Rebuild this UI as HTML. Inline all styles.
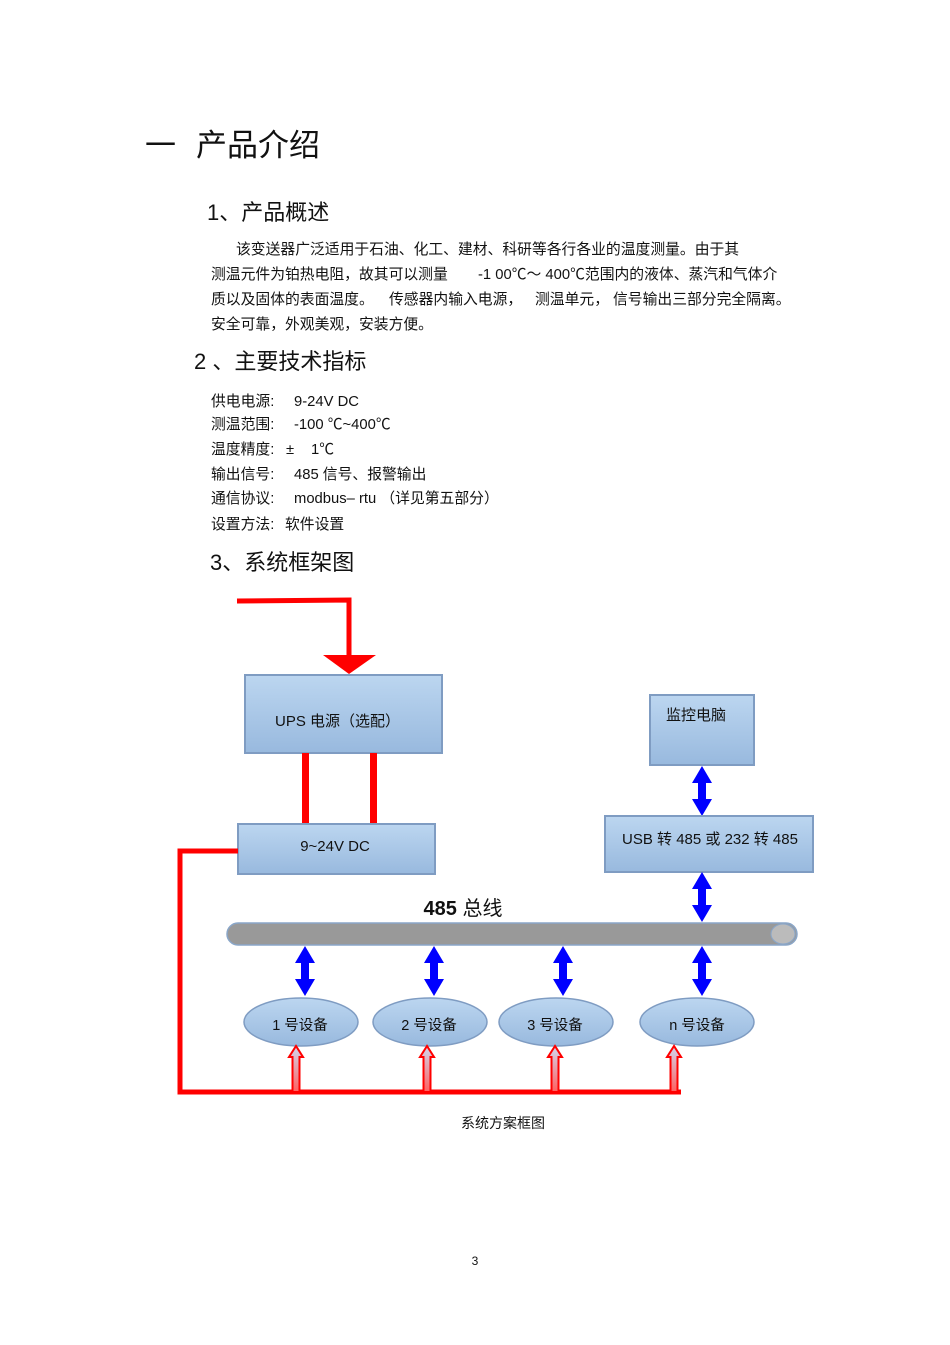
<!DOCTYPE html>
<html><head><meta charset="utf-8"><style>
html,body{margin:0;padding:0;background:#fff;}
svg{display:block;}
text{font-family:"Liberation Sans","Noto Sans CJK SC",sans-serif;fill:#111;}
</style></head><body>
<svg width="950" height="1345" viewBox="0 0 950 1345" xmlns="http://www.w3.org/2000/svg">
<defs>
<linearGradient id="bx" x1="0" y1="0" x2="0" y2="1"><stop offset="0" stop-color="#bcd6f0"/><stop offset="1" stop-color="#98b9de"/></linearGradient>
<linearGradient id="ra" x1="0" y1="0" x2="0" y2="1"><stop offset="0" stop-color="#d0d8ee"/><stop offset="1" stop-color="#ff6060"/></linearGradient>
<g id="barrow"><polygon points="0,-25 -10,-8 -4,-8 -4,8 -10,8 0,25 10,8 4,8 4,-8 10,-8" fill="#0000ff"/></g>
<g id="rarrow"><polygon points="0,0 -7,11 -3.5,11 -3.5,46 3.5,46 3.5,11 7,11" fill="url(#ra)" stroke="#ff0000" stroke-width="2"/></g>
</defs>
<g font-size="31"><text x="145" y="156">一</text><text x="196" y="156">产品介绍</text></g>
<text x="207" y="220" font-size="22">1、产品概述</text>
<g font-size="14.8">
<text x="236" y="254">该变送器广泛适用于石油、化工、建材、科研等各行各业的温度测量。由于其</text>
<text x="211" y="279">测温元件为铂热电阻，故其可以测量 <tspan x="478">-1 00℃～ 400℃范围内的液体、蒸汽和气体介</tspan></text>
<text x="211" y="304">质以及固体的表面温度。 <tspan x="389">传感器内输入电源，</tspan><tspan x="535">测温单元，</tspan><tspan x="613">信号输出三部分完全隔离。</tspan></text>
<text x="211" y="329">安全可靠，外观美观，安装方便。</text>
</g>
<text x="194" y="369" font-size="22">2 、主要技术指标</text>
<g font-size="14.8">
<text x="211" y="406">供电电源:<tspan x="294">9-24V DC</tspan></text>
<text x="211" y="429">测温范围:<tspan x="294">-100 ℃~400℃</tspan></text>
<text x="211" y="454">温度精度:<tspan x="286">±</tspan><tspan x="311">1℃</tspan></text>
<text x="211" y="479">输出信号:<tspan x="294">485 信号、报警输出</tspan></text>
<text x="211" y="503">通信协议:<tspan x="294">modbus– rtu  （详见第五部分）</tspan></text>
<text x="211" y="529">设置方法:<tspan x="285">软件设置</tspan></text>
</g>
<text x="210" y="570" font-size="22">3、系统框架图</text>

<polyline points="237,601 349,600 349,657" fill="none" stroke="#ff0000" stroke-width="5"/>
<polygon points="323,655 376,655 349,674" fill="#ff0000"/>
<rect x="245" y="675" width="197" height="78" fill="url(#bx)" stroke="#7f9cc2" stroke-width="2"/>
<text x="275" y="726" font-size="15">UPS 电源（选配）</text>
<rect x="302" y="753" width="7" height="71" fill="#ff0000"/>
<rect x="370" y="753" width="7" height="71" fill="#ff0000"/>
<rect x="238" y="824" width="197" height="50" fill="url(#bx)" stroke="#7f9cc2" stroke-width="2"/>
<text x="335" y="851" font-size="15" text-anchor="middle">9~24V DC</text>
<polyline points="238,851 180,851 180,1092 681,1092" fill="none" stroke="#ff0000" stroke-width="5"/>
<rect x="650" y="695" width="104" height="70" fill="url(#bx)" stroke="#7f9cc2" stroke-width="2"/>
<text x="666" y="720" font-size="15">监控电脑</text>
<use href="#barrow" x="702" y="791"/>
<rect x="605" y="816" width="208" height="56" fill="url(#bx)" stroke="#7f9cc2" stroke-width="2"/>
<text x="710" y="844" font-size="15" text-anchor="middle">USB 转 485 或 232 转 485</text>
<use href="#barrow" x="702" y="897"/>
<text x="463" y="915" font-size="20" text-anchor="middle" font-weight="bold">485 <tspan font-weight="normal">总线</tspan></text>
<rect x="227" y="923" width="570" height="22" rx="11" fill="#999" stroke="#8aa6c8" stroke-width="1.5"/>
<ellipse cx="783" cy="934" rx="12" ry="10" fill="#bbb" stroke="#8aa6c8" stroke-width="1"/>
<use href="#barrow" x="305" y="971"/>
<use href="#barrow" x="434" y="971"/>
<use href="#barrow" x="563" y="971"/>
<use href="#barrow" x="702" y="971"/>
<g stroke="#7f9cc2" stroke-width="1.5" fill="url(#bx)">
<ellipse cx="301" cy="1022" rx="57" ry="24"/>
<ellipse cx="430" cy="1022" rx="57" ry="24"/>
<ellipse cx="556" cy="1022" rx="57" ry="24"/>
<ellipse cx="697" cy="1022" rx="57" ry="24"/>
</g>
<g font-size="14.5" text-anchor="middle">
<text x="300" y="1030">1 号设备</text>
<text x="429" y="1030">2 号设备</text>
<text x="555" y="1030">3 号设备</text>
<text x="697" y="1030">n 号设备</text>
</g>
<use href="#rarrow" x="296" y="1046"/>
<use href="#rarrow" x="427" y="1046"/>
<use href="#rarrow" x="555" y="1046"/>
<use href="#rarrow" x="674" y="1046"/>
<text x="503" y="1128" font-size="14" text-anchor="middle">系统方案框图</text>
<text x="475" y="1265" font-size="12" text-anchor="middle">3</text>
</svg>
</body></html>
